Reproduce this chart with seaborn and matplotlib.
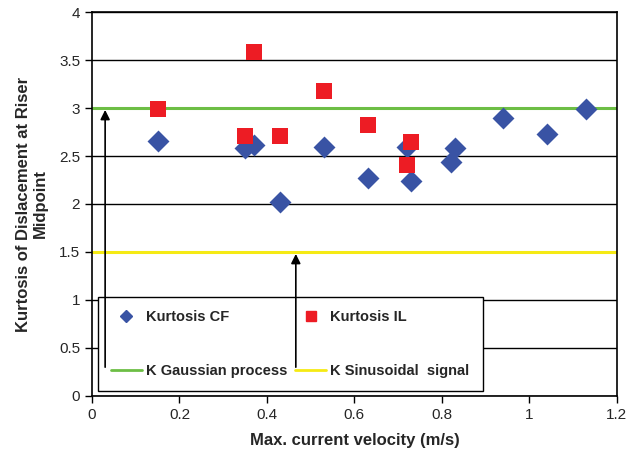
import matplotlib
matplotlib.use("Agg")
import matplotlib.pyplot as plt
import seaborn as sns
import pandas as pd
from matplotlib.lines import Line2D

# data
cf_x = [0.15, 0.35, 0.37, 0.43, 0.53, 0.63, 0.72, 0.73, 0.82, 0.83, 0.94, 1.04, 1.13]
cf_y = [2.66, 2.58, 2.61, 2.02, 2.59, 2.27, 2.59, 2.24, 2.44, 2.58, 2.90, 2.73, 2.99]
il_x = [0.15, 0.35, 0.37, 0.43, 0.53, 0.63, 0.72, 0.73]
il_y = [2.99, 2.71, 3.58, 2.71, 3.18, 2.82, 2.41, 2.65]
k_gauss = 3.0
k_sin = 1.5
x_ticks = [0, 0.2, 0.4, 0.6, 0.8, 1.0, 1.2]
x_tick_labels = ["0", "0.2", "0.4", "0.6", "0.8", "1", "1.2"]
y_ticks = [0, 0.5, 1, 1.5, 2, 2.5, 3, 3.5, 4]
y_tick_labels = ["0", "0.5", "1", "1.5", "2", "2.5", "3", "3.5", "4"]

sns.set_style("white")
plt.rcParams["font.family"] = ["Liberation Sans", "DejaVu Sans"]

fig = plt.figure(figsize=(6.32, 4.55), dpi=100)
ax = fig.add_axes([0.1456, 0.1297, 0.8304, 0.8439])

blue = "#3953A4"
red = "#ED1C24"
green = "#6DBE45"
yellow = "#F5EA14"

for y in y_ticks:
    ax.axhline(y, color="black", lw=1.0, zorder=0)

ax.axhline(k_gauss, color=green, lw=2.2, zorder=1)
ax.axhline(k_sin, color=yellow, lw=2.2, zorder=1)

df_cf = pd.DataFrame({"x": cf_x, "y": cf_y})
df_il = pd.DataFrame({"x": il_x, "y": il_y})
sns.scatterplot(data=df_cf, x="x", y="y", marker="D", s=125, color=blue,
                edgecolor=blue, linewidth=0, ax=ax, zorder=3)
sns.scatterplot(data=df_il, x="x", y="y", marker="s", s=130, color=red,
                edgecolor=red, linewidth=0, ax=ax, zorder=4)

ax.annotate("", xy=(0.03, k_gauss - 0.02), xytext=(0.03, 0.3),
            arrowprops=dict(arrowstyle="-|>", color="black", lw=1.2,
                            mutation_scale=14, shrinkA=0, shrinkB=0), zorder=2)
ax.annotate("", xy=(0.466, k_sin - 0.02), xytext=(0.466, 0.3),
            arrowprops=dict(arrowstyle="-|>", color="black", lw=1.2,
                            mutation_scale=14, shrinkA=0, shrinkB=0), zorder=2)

ax.set_xlim(0, 1.2)
ax.set_ylim(0, 4)
ax.set_xticks(x_ticks)
ax.set_xticklabels(x_tick_labels, fontsize=11)
ax.set_yticks(y_ticks)
ax.set_yticklabels(y_tick_labels, fontsize=11)
ax.tick_params(axis="both", direction="out", length=5, width=1, color="black",
               bottom=True, left=True)
for sp in ax.spines.values():
    sp.set_color("black")
    sp.set_linewidth(1.2)

ax.set_xlabel("Max. current velocity (m/s)", fontsize=12, fontweight="bold", labelpad=8)
ax.set_ylabel("Kurtosis of Dislacement at Riser\nMidpoint", fontsize=12,
              fontweight="bold", labelpad=8)

h_cf = Line2D([], [], marker="D", color=blue, ls="none", markersize=6)
h_il = Line2D([], [], marker="s", color=red, ls="none", markersize=7)
h_g = Line2D([], [], color=green, lw=2)
h_s = Line2D([], [], color=yellow, lw=2)
leg = ax.legend([h_cf, h_g, h_il, h_s],
                ["Kurtosis CF", "K Gaussian process", "Kurtosis IL", "K Sinusoidal  signal"],
                ncol=2, loc="upper left", bbox_to_anchor=(0.011, 0.258),
                borderaxespad=0, frameon=True, fancybox=False, edgecolor="black",
                framealpha=1, prop={"weight": "bold", "size": 10.5}, handlelength=2.1,
                labelspacing=2.75, borderpad=0.9, columnspacing=0.55, handletextpad=0.3)
leg.get_frame().set_linewidth(1.0)
leg.set_zorder(1.5)

fig.savefig("out.png", dpi=100)
